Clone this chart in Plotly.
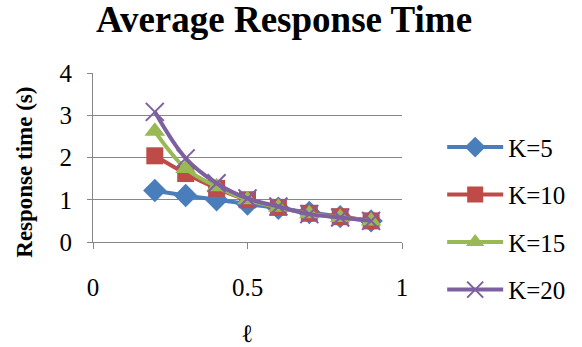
import plotly.graph_objects as go

x_vals = [0.2, 0.3, 0.4, 0.5, 0.6, 0.7, 0.8, 0.9]
k5 = [1.22, 1.1, 1.0, 0.9, 0.8, 0.7, 0.6, 0.5]
k10 = [2.04, 1.62, 1.27, 1.0, 0.82, 0.68, 0.6, 0.5]
k15 = [2.62, 1.74, 1.31, 1.0, 0.82, 0.67, 0.58, 0.5]
k20 = [3.08, 1.98, 1.39, 1.03, 0.84, 0.66, 0.58, 0.5]
names = ["K=5", "K=10", "K=15", "K=20"]
colors = ["#4A7EBB", "#BE4B48", "#98B954", "#7D60A0"]
symbols = ["diamond", "square", "triangle-up", "x-thin"]
sizes = [18, 17, 18, 18]
series = [k5, k10, k15, k20]

FONT = "Times New Roman"

fig = go.Figure()
for i, (nm, ys) in enumerate(zip(names, series)):
    sym = symbols[i]
    marker = dict(symbol=sym, size=sizes[i], color=colors[i],
                  line=dict(width=2 if sym == "x-thin" else 0, color=colors[i]))
    fig.add_trace(go.Scatter(
        x=x_vals, y=ys, name=nm, mode="lines+markers",
        line=dict(color=colors[i], width=4, shape="spline"),
        marker=marker, legendgroup=nm,
    ))

fig.update_layout(
    width=582, height=347,
    margin=dict(l=93, r=180, t=73, b=105, autoexpand=False),
    paper_bgcolor="white", plot_bgcolor="white",
    font=dict(family=FONT, size=25, color="black"),
    title=dict(text="<b>Average Response Time</b>", x=0.488, xanchor="center",
               yref="container", y=0.945, yanchor="middle",
               font=dict(family=FONT, size=37, color="black")),
    legend=dict(x=1.13, xanchor="left", y=0.14, yanchor="middle",
                font=dict(family=FONT, size=25), tracegroupgap=12,
                itemwidth=56,
                traceorder="grouped", bgcolor="rgba(0,0,0,0)", maxheight=330),
    showlegend=True,
)
fig.add_annotation(text="<b>Response time (s)</b>", textangle=-90,
                   xref="paper", yref="paper", x=-0.22, y=0.41,
                   xanchor="center", yanchor="middle", showarrow=False,
                   font=dict(family=FONT, size=23, color="black"))
fig.update_xaxes(range=[0, 1], tickvals=[0, 0.5, 1], ticktext=["0", "0.5", "1"],
                 showgrid=False, showline=True, linecolor="#868686", linewidth=1,
                 ticks="outside", ticklen=6, tickcolor="#868686",
                 ticklabelstandoff=17, automargin=False,
                 tickfont=dict(family=FONT, size=25), zeroline=False,
                 title=dict(text="<b>ℓ</b>", font=dict(family=FONT, size=25), standoff=24))
fig.update_yaxes(range=[0, 4], tickvals=[0, 1, 2, 3, 4],
                 showgrid=True, gridcolor="#868686", gridwidth=1,
                 showline=True, linecolor="#868686", linewidth=1,
                 ticks="outside", ticklen=5, tickcolor="#868686",
                 ticklabelstandoff=10, automargin=False,
                 tickfont=dict(family=FONT, size=25), zeroline=False)

fig.write_html("out.html")
